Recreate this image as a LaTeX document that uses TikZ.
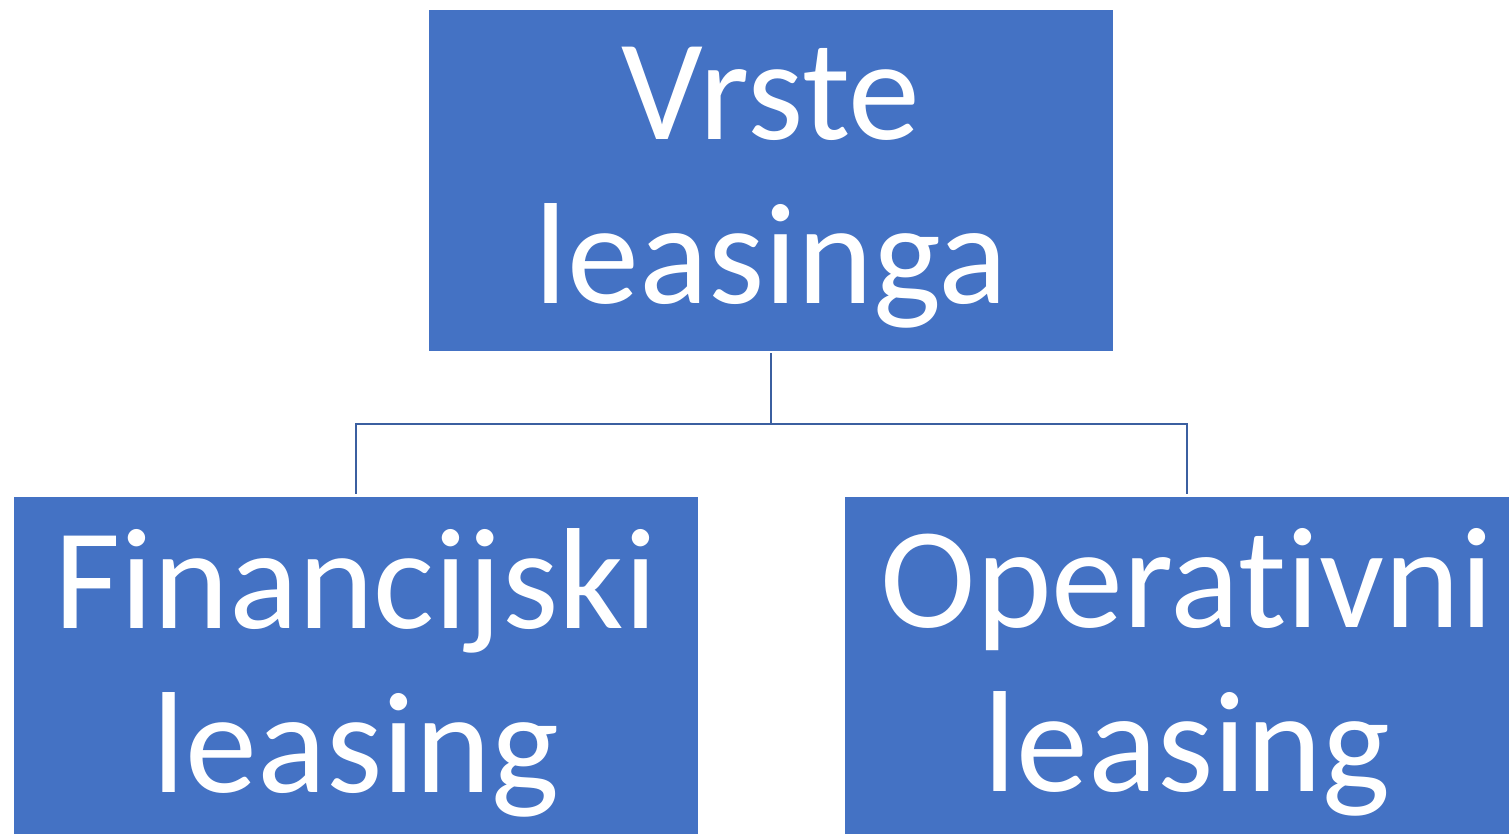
\documentclass[tikz,border=0pt]{standalone}
\usepackage{fontspec}
\setmainfont{Carlito}[Ligatures=NoCommon]
\usepackage{xcolor}
\usepackage{tikz}
\definecolor{boxblue}{HTML}{4472C4}
\definecolor{linkblue}{HTML}{3B5FA0}

\begin{document}
\begin{tikzpicture}[x=1pt, y=-1pt,
  box/.style={fill=boxblue, minimum width=684pt, minimum height=341pt, inner sep=0pt},
  boxtext/.style={text=white, align=center, inner sep=0pt, font=\fontsize{144}{164}\selectfont},
  link/.style={draw=linkblue, line width=2pt}]
  \clip (0,0) rectangle (1509,834);
  \foreach \x/\y/\z in {771/180.5/top, 356/667.5/fin, 1187/667.5/oper}
  {
    \node[box] (\z) at (\x, \y) {};
  }
  \node[boxtext] (topText) at ([yshift=-7pt]top.center) {Vrste\\leasinga};
  \node[boxtext] (finText) at ([yshift=-5pt]fin.center) {Financijski\\leasing};
  \node[boxtext] (operText) at ([yshift=-5pt]oper.center) {Operativni\\leasing};
  \coordinate (split) at (771, 424);
  \path[link, shorten <=2pt] (top.south) -- (split);
  \path[link, shorten <=3pt, shorten >=3pt] (fin.north) |- (split) -| (oper.north);
\end{tikzpicture}
\end{document}
